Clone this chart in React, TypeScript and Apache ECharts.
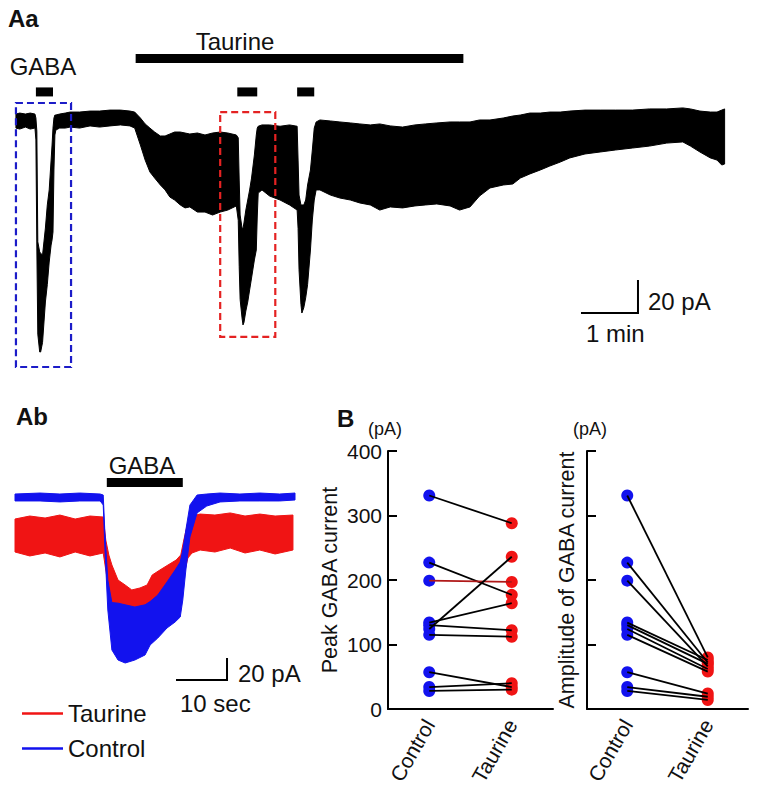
import React, { useEffect, useRef } from "react";
import * as echarts from "echarts";

// ---------- Panel Aa: whole-cell current trace envelope (time in s, current in pA) ----------
const aaTime = [1, 5, 11, 16, 21, 22, 23, 24, 26, 27, 29, 32, 34, 36, 38, 39, 40, 41, 42, 43, 47, 53, 58, 68, 79, 89, 100, 111, 121, 126, 132, 137, 142, 147, 153, 158, 163, 168, 174, 179, 184, 192, 200, 208, 216, 224, 233, 235, 236, 237, 239, 240, 241, 243, 245, 247, 249, 252, 254, 255, 256, 260, 268, 279, 289, 297, 298, 299, 301, 302, 304, 306, 308, 311, 313, 315, 317, 321, 332, 342, 353, 363, 374, 384, 395, 408, 421, 432, 444, 458, 468, 479, 489, 500, 514, 524, 532, 542, 553, 563, 574, 584, 600, 616, 632, 650, 668, 686, 703, 711, 721, 732, 739, 744, 747];
const aaUpper = [
  2.4, 3.0, 2.4, 3.0, 2.4,
  0, -8, -75, -81.2, -82,
  -83, -66.7, -52.7, -43.6, -25.5,
  -16.4, -6.1, 0, 1.8, 1.8,
  2.4, 3.0, 3.6, 3.6, 4.2,
  4.2, 4.8, 4.8, 4.2, 3.6,
  0, -3.6, -6.1, -8.5, -10.9,
  -10.9, -9.7, -8.5, -8.5, -9.1,
  -9.7, -9.1, -10.3, -9.1, -8.5,
  -9.1, -10.3, -12, -37.6, -58.8,
  -66.7, -67, -63.6, -55.8, -49.7,
  -43.6, -36.4, -22.4, -10.3, -6.1,
  -5, -4.2, -4.2, -5, -4.2,
  -5, -25.5, -46.7, -52.7, -52.7,
  -52.7, -49.7, -40.6, -31.5, -19.4,
  -6.1, -2.4, -1.2, -1.8, -2.4,
  -3.0, -3.6, -4.2, -3.6, -4.8,
  -5.5, -4.2, -3.6, -3.0, -2.4,
  -2.4, -2.4, -1.2, -1.2, 0,
  1.2, 1.8, 3.0, 3.0, 3.6,
  3.6, 4.2, 4.8, 4.8, 4.8,
  4.8, 5.5, 5.5, 6.1, 5.5,
  4.2, 3.6, 3.6, 4.8, 5.5,
];
const aaLower = [
  -6.1, -6.7, -5.5, -6.7, -6.1,
  -13.3, -78.8, -131, -141.8, -141.8,
  -136, -111.5, -101, -87.3, -77,
  -73.9, -69.1, -31.5, -10.3, -7.3,
  -6.1, -6.1, -5.5, -6.1, -4.8,
  -5.5, -4.8, -4.2, -4.8, -6.1,
  -16.4, -25.5, -32.7, -36.4, -40.6,
  -43.6, -47.9, -49.7, -52.7, -54.5,
  -53.9, -57, -57, -58.8, -57,
  -55.8, -53.3, -62, -90, -110,
  -121.2, -125.4, -124, -117, -111.5,
  -104.2, -97, -86, -80, -60,
  -45.5, -43.6, -47.3, -49.7, -52.7,
  -55.8, -67, -92, -113, -118.2,
  -115, -109, -101, -80, -61.8,
  -49.7, -43.6, -43.6, -46.7, -48.5,
  -49.7, -51.5, -52.7, -55.8, -53.9,
  -54.5, -53.3, -52.7, -52.1, -53.3,
  -55.8, -53.9, -47.3, -42.4, -40.6,
  -40, -36.4, -33.9, -31.5, -29.1,
  -26.7, -24.2, -21.8, -20.6, -19.4,
  -18.2, -17, -15.2, -14.5, -17,
  -20.6, -24.2, -25.5, -28.5, -27.9,
];
const aaGabaPulses = [[22, 40], [234, 255], [297, 315]];
const aaTaurinePeriod = [[127, 472]];
// boxes: [t start, t end, top pA, bottom pA]
const aaControlBox = [[1, 59, 9.1, -150.9]];
const aaTaurineBox = [[216, 274, 3.6, -132.7]];

// ---------- Panel Ab: superimposed GABA responses ----------
const abControlTime = [0, 4.9, 8.8, 12.7, 16.7, 17.3, 17.6, 18.2, 19.0, 20.2, 21.6, 23.5, 25.5, 26.5, 28.0, 29.8, 31.4, 32.4, 32.9, 33.5, 34.3, 35.7, 37.6, 40.2, 44.1, 48.0, 51.9, 54.9];
const abControlUpper = [2.7, 3.6, 2.7, 3.6, 2.7, 1.8, -30, -75.5, -96.0, -96.5, -98.0, -100.0, -98.0, -95.0, -89.1, -77.3, -66.4, -59.1, -48.2, -30, -7.3, 1.8, 2.7, 3.6, 2.7, 3.6, 2.7, 3.6];
const abControlLower = [-3.6, -3.6, -4.5, -3.6, -3.6, -7.3, -43.6, -102.7, -139.1, -148.2, -150.9, -148.2, -143.6, -134.5, -128.2, -119.1, -113.6, -109.1, -93.6, -66.4, -36.4, -14.5, -8.2, -4.5, -3.6, -3.6, -3.6, -2.7];
const abTaurineTime = [0, 2.9, 5.9, 8.8, 11.8, 14.7, 17.3, 17.8, 18.4, 19.0, 20.2, 21.6, 22.9, 24.5, 25.9, 26.9, 28.4, 30.0, 31.6, 32.5, 33.1, 33.9, 34.7, 36.3, 39.2, 42.2, 45.1, 48.0, 51.0, 54.5];
const abTaurineUpper = [-20.0, -17.3, -19.1, -16.4, -20.0, -17.3, -18.2, -39.1, -52.7, -61.8, -75.5, -80, -84.5, -82.7, -80, -70.9, -66.4, -61.8, -57.3, -52.7, -39.1, -22.7, -17.3, -15.5, -16.4, -14.5, -17.3, -15.5, -17.3, -16.4];
const abTaurineLower = [-50, -53.6, -50.9, -54.5, -50, -53.6, -50.9, -66.4, -84.5, -98.2, -107.3, -113.6, -118.2, -116.4, -119.1, -119.1, -111.8, -104.5, -98.2, -91.8, -70.9, -55.5, -50.9, -48.2, -50, -46.4, -50.9, -48.2, -51.8, -48.2];
const abGabaPulse = [[18.0, 32.9]];

// ---------- Panel B: paired data ----------
const groups = ["Control", "Taurine"];
const peakControl = [331, 227, 199, 124, 134, 130, 115, 57, 34, 28];
const peakTaurine = [288, 177, 197, 236, 164, 122, 112, 34, 40, 30];
const ampControl = [331, 227, 199, 134, 130, 124, 115, 57, 34, 28];
const ampTaurine = [80, 72, 66, 76, 70, 62, 58, 24, 19, 14];
const yTicks = [0, 100, 200, 300, 400];

const FONT = '"Liberation Sans", Arial, Helvetica, sans-serif';
const BLUE = "#1212ee";
const RED = "#f01414";

function band(name: string, axis: number, times: number[], upper: number[], lower: number[], color: string, z: number) {
  return {
    type: "custom",
    name,
    xAxisIndex: axis,
    yAxisIndex: axis,
    z,
    silent: true,
    clip: false,
    itemStyle: { color },
    data: times.map((t, i) => [t, upper[i], lower[i]]),
    encode: { x: 0, y: [1, 2] },
    renderItem: (params: any, api: any) => {
      if (params.dataIndex !== 0) return null;
      const pts: number[][] = [];
      for (let i = 0; i < times.length; i++) pts.push(api.coord([times[i], upper[i]]));
      for (let i = times.length - 1; i >= 0; i--) pts.push(api.coord([times[i], lower[i]]));
      return {
        type: "polygon",
        shape: { points: pts },
        style: { fill: color, stroke: color, lineWidth: 1 },
      };
    },
  };
}

function bars(axis: number, data: number[][], level: number, thick: number) {
  return {
    type: "custom",
    xAxisIndex: axis,
    yAxisIndex: axis,
    silent: true,
    clip: false,
    z: 6,
    data,
    encode: { x: [0, 1] },
    renderItem: (params: any, api: any) => {
      const d = data[params.dataIndex];
      const p0 = api.coord([d[0], level]);
      const p1 = api.coord([d[1], level]);
      return {
        type: "rect",
        shape: { x: p0[0], y: p0[1] - thick / 2, width: p1[0] - p0[0], height: thick },
        style: { fill: "#000" },
      };
    },
  };
}

function dashedBox(axis: number, data: number[][], color: string) {
  return {
    type: "custom",
    xAxisIndex: axis,
    yAxisIndex: axis,
    silent: true,
    clip: false,
    z: 7,
    data,
    encode: { x: [0, 1] },
    renderItem: (params: any, api: any) => {
      const d = data[params.dataIndex];
      const p0 = api.coord([d[0], d[2]]);
      const p1 = api.coord([d[1], d[3]]);
      return {
        type: "rect",
        shape: { x: p0[0], y: p0[1], width: p1[0] - p0[0], height: p1[1] - p0[1] },
        style: { fill: "none", stroke: color, lineWidth: 2.2, lineDash: [7, 4] },
      };
    },
  };
}

function scaleBar(axis: number, corner: number[], dt: number, di: number) {
  return {
    type: "custom",
    xAxisIndex: axis,
    yAxisIndex: axis,
    silent: true,
    clip: false,
    z: 6,
    data: [corner],
    encode: { x: 0, y: 1 },
    renderItem: (params: any, api: any) => {
      const a = api.coord([corner[0] - dt, corner[1]]);
      const b = api.coord([corner[0], corner[1]]);
      const c = api.coord([corner[0], corner[1] + di]);
      return {
        type: "polyline",
        shape: { points: [a, b, c] },
        style: { fill: "none", stroke: "#000", lineWidth: 2 },
      };
    },
  };
}

function pairLines(axis: number, ctrl: number[], taur: number[], redIdx: number) {
  return ctrl.map((c, i) => ({
    type: "line",
    xAxisIndex: axis,
    yAxisIndex: axis,
    data: [c, taur[i]],
    symbol: "none",
    silent: true,
    z: 5,
    lineStyle: { color: i === redIdx ? "#b01818" : "#000", width: 1.8 },
  }));
}

function dots(name: string, axis: number, cat: string, vals: number[], color: string) {
  return {
    type: "scatter",
    name,
    xAxisIndex: axis,
    yAxisIndex: axis,
    data: vals.map((v) => [cat, v]),
    symbol: "circle",
    symbolSize: 12,
    silent: true,
    z: 3,
    itemStyle: { color, opacity: 1 },
  };
}

function txt(text: string, x: number, y: number, size: number, align = "left", bold = false) {
  return {
    type: "text",
    x,
    y,
    silent: true,
    style: {
      text,
      fill: "#111",
      fontSize: size,
      fontFamily: FONT,
      fontWeight: bold ? "bold" : "normal",
      align,
      verticalAlign: "middle",
      textAlign: align,
      textVerticalAlign: "middle",
    },
  };
}

export default function App() {
  const ref = useRef<HTMLDivElement>(null);
  useEffect(() => {
    document.body.style.margin = "0";
    if (!ref.current) return;
    const chart = echarts.init(ref.current, undefined, { renderer: "svg" });
    const hiddenVal = (min: number, max: number) => ({ type: "value", min, max, show: false });
    const bAxisLine = { show: true, lineStyle: { color: "#000", width: 2 } };
    chart.setOption({
      animation: false,
      backgroundColor: "#fff",
      textStyle: { fontFamily: FONT },
      grid: [
        { left: 15, top: 35.5, width: 710, height: 338.25 },
        { left: 15, top: 475, width: 280, height: 220 },
        { left: 388, top: 451, width: 165, height: 258 },
        { left: 587, top: 451, width: 161, height: 258 },
      ],
      xAxis: [
        { gridIndex: 0, ...hiddenVal(0, 747.4) },
        { gridIndex: 1, ...hiddenVal(0, 54.9) },
        {
          gridIndex: 2, type: "category", data: groups, boundaryGap: true,
          axisLine: bAxisLine, axisTick: { show: false },
          axisLabel: { rotate: 60, fontSize: 21, color: "#111", margin: 12, fontFamily: FONT },
        },
        {
          gridIndex: 3, type: "category", data: groups, boundaryGap: true,
          axisLine: bAxisLine, axisTick: { show: false },
          axisLabel: { rotate: 60, fontSize: 21, color: "#111", margin: 12, fontFamily: FONT },
        },
      ],
      yAxis: [
        { gridIndex: 0, ...hiddenVal(-155, 50) },
        { gridIndex: 1, ...hiddenVal(-180, 20) },
        {
          gridIndex: 2, type: "value", min: yTicks[0], max: yTicks[yTicks.length - 1], interval: 100,
          axisLine: bAxisLine,
          axisTick: { show: true, inside: true, length: 9, lineStyle: { color: "#000", width: 2 } },
          axisLabel: { fontSize: 21, color: "#111", margin: 6, fontFamily: FONT },
          splitLine: { show: false },
          name: "Peak GABA current", nameLocation: "middle", nameGap: 47,
          nameTextStyle: { fontSize: 21.5, color: "#111", fontFamily: FONT },
        },
        {
          gridIndex: 3, type: "value", min: yTicks[0], max: yTicks[yTicks.length - 1], interval: 100,
          axisLine: bAxisLine,
          axisTick: { show: true, inside: true, length: 9, lineStyle: { color: "#000", width: 2 } },
          axisLabel: { show: false },
          splitLine: { show: false },
          name: "Amplitude of GABA current", nameLocation: "middle", nameGap: 9,
          nameTextStyle: { fontSize: 21.5, color: "#111", fontFamily: FONT },
        },
      ],
      legend: {
        data: ["Taurine", "Control"],
        orient: "vertical",
        left: 17,
        top: 696,
        icon: "rect",
        itemWidth: 41,
        itemHeight: 2.5,
        itemGap: 10,
        selectedMode: false,
        textStyle: { fontSize: 24, color: "#111", lineHeight: 25, padding: 0, fontFamily: FONT },
      },
      series: [
        band("Aa trace", 0, aaTime, aaUpper, aaLower, "#000", 2),
        bars(0, aaGabaPulses, 15.8, 9),
        bars(0, aaTaurinePeriod, 36.1, 9),
        dashedBox(0, aaControlBox, "#1c1cc8"),
        dashedBox(0, aaTaurineBox, "#e42222"),
        scaleBar(0, [655.8, -118.2], 60, 20),
        band("Taurine", 1, abTaurineTime, abTaurineUpper, abTaurineLower, RED, 2),
        band("Control", 1, abControlTime, abControlUpper, abControlLower, BLUE, 3),
        bars(1, abGabaPulse, 13.2, 9),
        scaleBar(1, [41.57, -166.4], 10, 20),
        ...pairLines(2, peakControl, peakTaurine, 2),
        dots("Peak control", 2, groups[0], peakControl, BLUE),
        dots("Peak taurine", 2, groups[1], peakTaurine, RED),
        ...pairLines(3, ampControl, ampTaurine, -1),
        dots("Amp control", 3, groups[0], ampControl, BLUE),
        dots("Amp taurine", 3, groups[1], ampTaurine, RED),
      ],
      graphic: [
        txt("Aa", 8, 18.5, 24, "left", true),
        txt("Taurine", 235, 41, 24, "center"),
        txt("GABA", 43, 66, 24, "center"),
        txt("20 pA", 648, 301, 24),
        txt("1 min", 586, 333, 24),
        txt("Ab", 16, 416.5, 24, "left", true),
        txt("GABA", 142, 465, 24, "center"),
        txt("20 pA", 238, 673, 24),
        txt("10 sec", 180, 703, 24),
        txt("B", 337, 418, 24, "left", true),
        txt("(pA)", 368, 429, 18),
        txt("(pA)", 573, 429, 18),
      ],
    });
    return () => chart.dispose();
  }, []);
  return <div ref={ref} style={{ width: 762, height: 803 }} />;
}
